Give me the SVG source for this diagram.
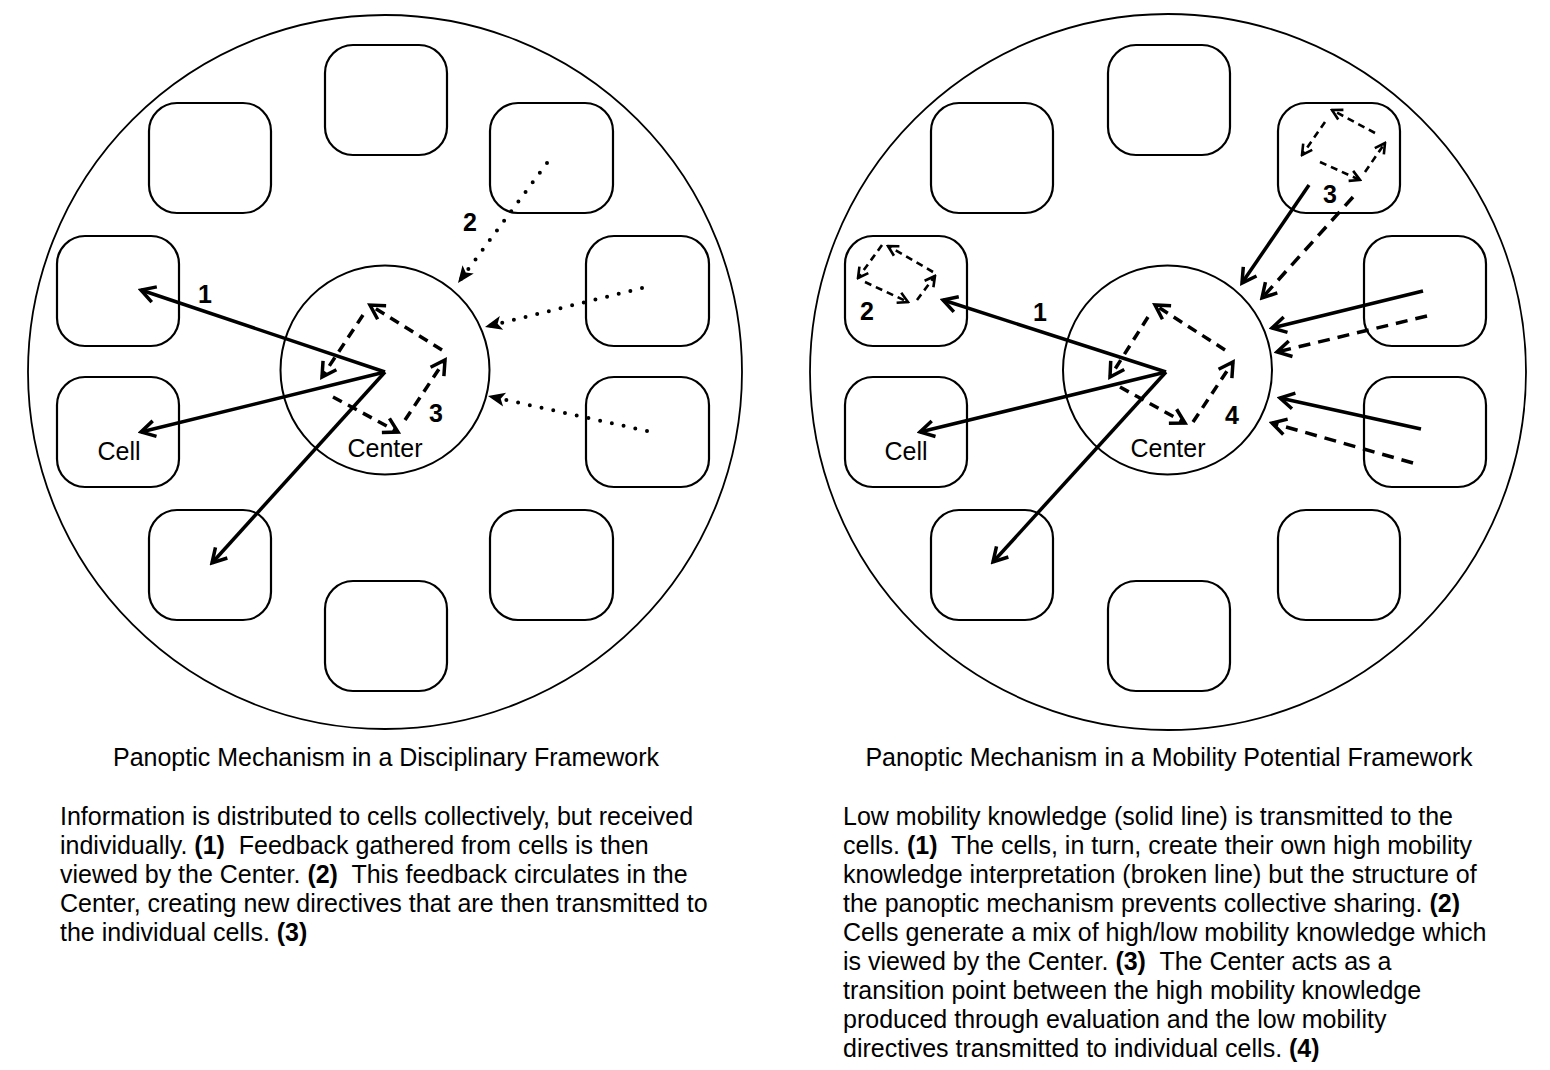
<svg xmlns="http://www.w3.org/2000/svg" width="1550" height="1070" viewBox="0 0 1550 1070">
<style>
text{font-family:"Liberation Sans",Arial,Helvetica,sans-serif;fill:#000;font-size:25px;white-space:pre}
.num{font-weight:bold}
.big{fill:none;stroke:#000;stroke-width:1.8}
.ctr{fill:none;stroke:#000;stroke-width:2}
.cell{fill:#fff;stroke:#000;stroke-width:2.2}
.solid{fill:none;stroke:#000;stroke-width:3.5;marker-end:url(#open)}
.dash{fill:none;stroke:#000;stroke-width:3.5;stroke-dasharray:12 8;marker-end:url(#open)}
.inner{fill:none;stroke:#000;stroke-width:3.5;stroke-dasharray:10 7;marker-end:url(#open)}
.small{fill:none;stroke:#000;stroke-width:2.6;stroke-dasharray:7 5;marker-end:url(#openS)}
.dot{fill:none;stroke:#000;stroke-width:4;stroke-linecap:round;stroke-dasharray:0 12;marker-end:url(#classic)}
</style>
<defs>
<marker id="open" viewBox="0 0 20 20" refX="17" refY="10" markerWidth="20" markerHeight="20" markerUnits="userSpaceOnUse" orient="auto"><path d="M3,2 L17,10 L3,18" fill="none" stroke="#000" stroke-width="3.5"/></marker>
<marker id="openS" viewBox="0 0 14 14" refX="12" refY="7" markerWidth="14" markerHeight="14" markerUnits="userSpaceOnUse" orient="auto"><path d="M2,1.5 L12,7 L2,12.5" fill="none" stroke="#000" stroke-width="2.6"/></marker>
<marker id="classic" viewBox="0 0 20 20" refX="18" refY="10" markerWidth="20" markerHeight="20" markerUnits="userSpaceOnUse" orient="auto"><path d="M1,3 L18,10 L1,17 L5,10 Z" fill="#000"/></marker>
</defs>

<!-- Left diagram -->
<g id="left-frame"><circle class="big" cx="385" cy="372" r="357"/></g>
<g id="left-center"><circle class="ctr" cx="385" cy="370" r="104.5"/><text x="385" y="457" text-anchor="middle">Center</text></g>
<g id="left-cell-top"><rect class="cell" x="325" y="45" width="122" height="110" rx="28"/></g>
<g id="left-cell-tl"><rect class="cell" x="149" y="103" width="122" height="110" rx="28"/></g>
<g id="left-cell-tr"><rect class="cell" x="490" y="103" width="123" height="110" rx="28"/></g>
<g id="left-cell-lu"><rect class="cell" x="57" y="236" width="122" height="110" rx="28"/></g>
<g id="left-cell-ru"><rect class="cell" x="586" y="236" width="123" height="110" rx="28"/></g>
<g id="left-cell-ll"><rect class="cell" x="57" y="377" width="122" height="110" rx="28"/><text x="119" y="460" text-anchor="middle">Cell</text></g>
<g id="left-cell-rl"><rect class="cell" x="586" y="377" width="123" height="110" rx="28"/></g>
<g id="left-cell-bl"><rect class="cell" x="149" y="510" width="122" height="110" rx="28"/></g>
<g id="left-cell-br"><rect class="cell" x="490" y="510" width="123" height="110" rx="28"/></g>
<g id="left-cell-bottom"><rect class="cell" x="325" y="581" width="122" height="110" rx="28"/></g>

<!-- Right diagram -->
<g id="right-frame"><circle class="big" cx="1168" cy="372" r="358"/></g>
<g id="right-center"><circle class="ctr" cx="1167.5" cy="370" r="104.5"/><text x="1168" y="457" text-anchor="middle">Center</text></g>
<g id="right-cell-top"><rect class="cell" x="1108" y="45" width="122" height="110" rx="28"/></g>
<g id="right-cell-tl"><rect class="cell" x="931" y="103" width="122" height="110" rx="28"/></g>
<g id="right-cell-tr"><rect class="cell" x="1278" y="103" width="122" height="110" rx="28"/></g>
<g id="right-cell-lu"><rect class="cell" x="845" y="236" width="122" height="110" rx="28"/></g>
<g id="right-cell-ru"><rect class="cell" x="1364" y="236" width="122" height="110" rx="28"/></g>
<g id="right-cell-ll"><rect class="cell" x="845" y="377" width="122" height="110" rx="28"/><text x="906" y="460" text-anchor="middle">Cell</text></g>
<g id="right-cell-rl"><rect class="cell" x="1364" y="377" width="122" height="110" rx="28"/></g>
<g id="right-cell-bl"><rect class="cell" x="931" y="510" width="122" height="110" rx="28"/></g>
<g id="right-cell-br"><rect class="cell" x="1278" y="510" width="122" height="110" rx="28"/></g>
<g id="right-cell-bottom"><rect class="cell" x="1108" y="581" width="122" height="110" rx="28"/></g>

<g id="connectors">
  <!-- left: solid from center -->
  <line class="solid" x1="385" y1="372" x2="141" y2="290"/>
  <line class="solid" x1="385" y1="372" x2="141" y2="432"/>
  <line class="solid" x1="385" y1="372" x2="212" y2="563"/>
  <!-- left: dotted feedback -->
  <line class="dot" x1="547" y1="163" x2="458" y2="283"/>
  <line class="dot" x1="642" y1="288" x2="485" y2="327"/>
  <line class="dot" x1="647" y1="431" x2="488" y2="396"/>
  <!-- left: inner circulation -->
  <line class="inner" x1="442" y1="350" x2="370" y2="305"/>
  <line class="inner" x1="363" y1="315" x2="322" y2="377"/>
  <line class="inner" x1="333" y1="397" x2="398" y2="432"/>
  <line class="inner" x1="405" y1="420" x2="445" y2="360"/>

  <!-- right: solid from center -->
  <line class="solid" x1="1166" y1="372" x2="943" y2="300"/>
  <line class="solid" x1="1166" y1="372" x2="920" y2="432"/>
  <line class="solid" x1="1166" y1="372" x2="993" y2="562"/>
  <!-- right: inner circulation -->
  <line class="inner" x1="1225" y1="350" x2="1155" y2="305"/>
  <line class="inner" x1="1148" y1="317" x2="1110" y2="377"/>
  <line class="inner" x1="1120" y1="387" x2="1185" y2="423"/>
  <line class="inner" x1="1193" y1="422" x2="1233" y2="362"/>
  <!-- right: feedback into center -->
  <line class="solid" x1="1309" y1="185" x2="1242" y2="283"/>
  <line class="dash" x1="1353" y1="197" x2="1262" y2="298"/>
  <line class="solid" x1="1423" y1="291" x2="1272" y2="328"/>
  <line class="dash" x1="1427" y1="316" x2="1277" y2="352"/>
  <line class="solid" x1="1421" y1="429" x2="1280" y2="398"/>
  <line class="dash" x1="1413" y1="463" x2="1272" y2="423"/>
  <!-- right: cell 2 circulation -->
  <line class="small" x1="933" y1="272" x2="888" y2="246"/>
  <line class="small" x1="882" y1="245" x2="858" y2="278"/>
  <line class="small" x1="865" y1="282" x2="908" y2="302"/>
  <line class="small" x1="917" y1="300" x2="935" y2="276"/>
  <!-- right: cell 3 circulation -->
  <line class="small" x1="1375" y1="133" x2="1332" y2="110"/>
  <line class="small" x1="1325" y1="122" x2="1302" y2="155"/>
  <line class="small" x1="1320" y1="162" x2="1360" y2="180"/>
  <line class="small" x1="1365" y1="172" x2="1385" y2="143"/>
</g>

<g id="labels">
  <text class="num" x="205" y="303" text-anchor="middle">1</text>
  <text class="num" x="470" y="231" text-anchor="middle">2</text>
  <text class="num" x="436" y="422" text-anchor="middle">3</text>
  <text class="num" x="1040" y="321" text-anchor="middle">1</text>
  <text class="num" x="867" y="320" text-anchor="middle">2</text>
  <text class="num" x="1330" y="203" text-anchor="middle">3</text>
  <text class="num" x="1232" y="424" text-anchor="middle">4</text>
</g>

<g id="left-caption">
  <text x="386" y="766" text-anchor="middle">Panoptic Mechanism in a Disciplinary Framework</text>
  <text x="60" y="825">Information is distributed to cells collectively, but received</text>
  <text x="60" y="854">individually. <tspan class="num">(1)</tspan>  Feedback gathered from cells is then</text>
  <text x="60" y="883">viewed by the Center. <tspan class="num">(2)</tspan>  This feedback circulates in the</text>
  <text x="60" y="912">Center, creating new directives that are then transmitted to</text>
  <text x="60" y="941">the individual cells. <tspan class="num">(3)</tspan></text>
</g>
<g id="right-caption">
  <text x="1169" y="766" text-anchor="middle">Panoptic Mechanism in a Mobility Potential Framework</text>
  <text x="843" y="825">Low mobility knowledge (solid line) is transmitted to the</text>
  <text x="843" y="854">cells. <tspan class="num">(1)</tspan>  The cells, in turn, create their own high mobility</text>
  <text x="843" y="883">knowledge interpretation (broken line) but the structure of</text>
  <text x="843" y="912">the panoptic mechanism prevents collective sharing. <tspan class="num">(2)</tspan></text>
  <text x="843" y="941">Cells generate a mix of high/low mobility knowledge which</text>
  <text x="843" y="970">is viewed by the Center. <tspan class="num">(3)</tspan>  The Center acts as a</text>
  <text x="843" y="999">transition point between the high mobility knowledge</text>
  <text x="843" y="1028">produced through evaluation and the low mobility</text>
  <text x="843" y="1057">directives transmitted to individual cells. <tspan class="num">(4)</tspan></text>
</g>
</svg>
